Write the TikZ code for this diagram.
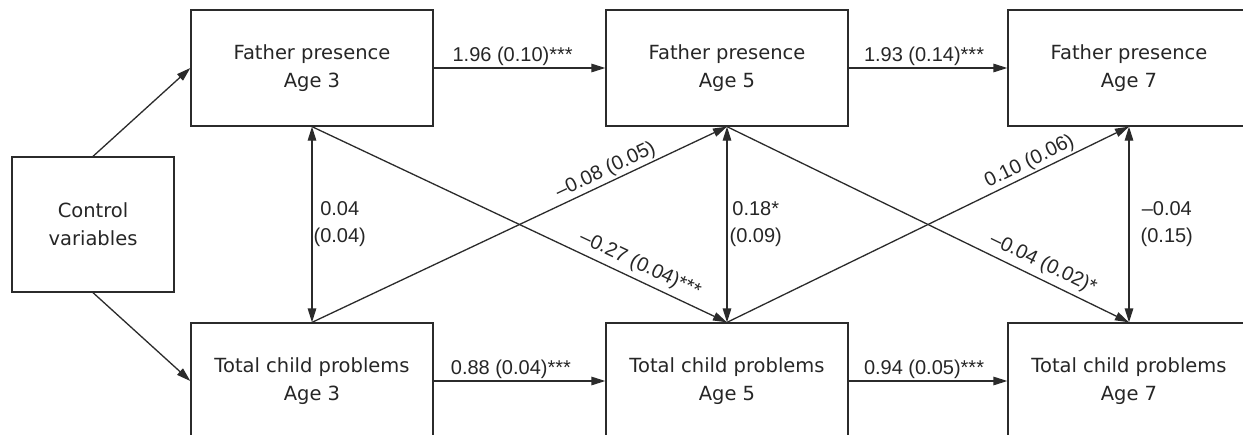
\documentclass[tikz,border=0pt]{standalone}
\usepackage{fontspec}
\setmainfont{Liberation Sans}
\newfontfamily\boxfont{DejaVu Sans}
\definecolor{fpline}{HTML}{2B2B2B}
\definecolor{fptext}{HTML}{262626}
\usetikzlibrary{arrows.meta, positioning}

\begin{document}
\begin{tikzpicture}[x=1pt, y=-1pt,
  var/.style={draw=fpline, line width=1.3pt, minimum width=242pt, minimum height=116pt,
              align=center, text=fptext, font=\boxfont\fontsize{19.5}{28}\selectfont},
  ctrl/.style={var, minimum width=162pt, minimum height=135pt},
  eff/.style={draw=fpline, line width=1.3pt, -{Triangle[length=14pt, width=8.5pt]}},
  cov/.style={draw=fpline, line width=1.3pt,
              {Triangle[length=14pt, width=8.5pt]}-{Triangle[length=14pt, width=8.5pt]}},
  coef/.style={font=\fontsize{20}{27}\selectfont, text=fptext, inner sep=2pt, align=center},
]
  \useasboundingbox[fill=white] (0,0) rectangle (1243,434);

  % Variables
  \node[ctrl] (ctrl) at (93,224.5) {Control\\variables};
  \node[var] (fp3) at (312,68) {Father presence\\Age 3};
  \node[var] (fp5) at (727,68) {Father presence\\Age 5};
  \node[var] (fp7) at (1129,68) {Father presence\\Age 7};
  \node[var] (tp3) at (312,381) {Total child problems\\Age 3};
  \node[var] (tp5) at (727,381) {Total child problems\\Age 5};
  \node[var] (tp7) at (1129,381) {Total child problems\\Age 7};

  % Controls
  \draw[eff] (ctrl.north) -- (fp3.west);
  \draw[eff] (ctrl.south) -- (tp3.west);

  % Stability paths
  \draw[eff] (fp3.east) -- node[coef, above, pos=0.46] {1.96 (0.10)***} (fp5.west);
  \draw[eff] (fp5.east) -- node[coef, above, pos=0.475] {1.93 (0.14)***} (fp7.west);
  \draw[eff] (tp3.east) -- node[coef, above, pos=0.45] {0.88 (0.04)***} (tp5.west);
  \draw[eff] (tp5.east) -- node[coef, above, pos=0.475] {0.94 (0.05)***} (tp7.west);

  % Cross-lagged paths
  \draw[eff] (fp3.south) -- node[coef, above, sloped, pos=0.775, inner sep=5pt] {–0.27 (0.04)***} (tp5.north);
  \draw[eff] (tp3.north) -- node[coef, above, sloped, pos=0.72] {–0.08 (0.05)} (fp5.south);
  \draw[eff] (fp5.south) -- node[coef, above, sloped, pos=0.77, inner sep=5pt] {–0.04 (0.02)*} (tp7.north);
  \draw[eff] (tp5.north) -- node[coef, above, sloped, pos=0.766] {0.10 (0.06)} (fp7.south);

  % Covariances
  \draw[cov] (fp3.south) -- node[coef, right, inner sep=1pt] {0.04\\(0.04)} (tp3.north);
  \draw[cov] (fp5.south) -- node[coef, right, inner sep=2pt] {0.18*\\(0.09)} (tp5.north);
  \draw[cov] (fp7.south) -- node[coef, right, xshift=9pt] {–0.04\\(0.15)} (tp7.north);
\end{tikzpicture}
\end{document}
